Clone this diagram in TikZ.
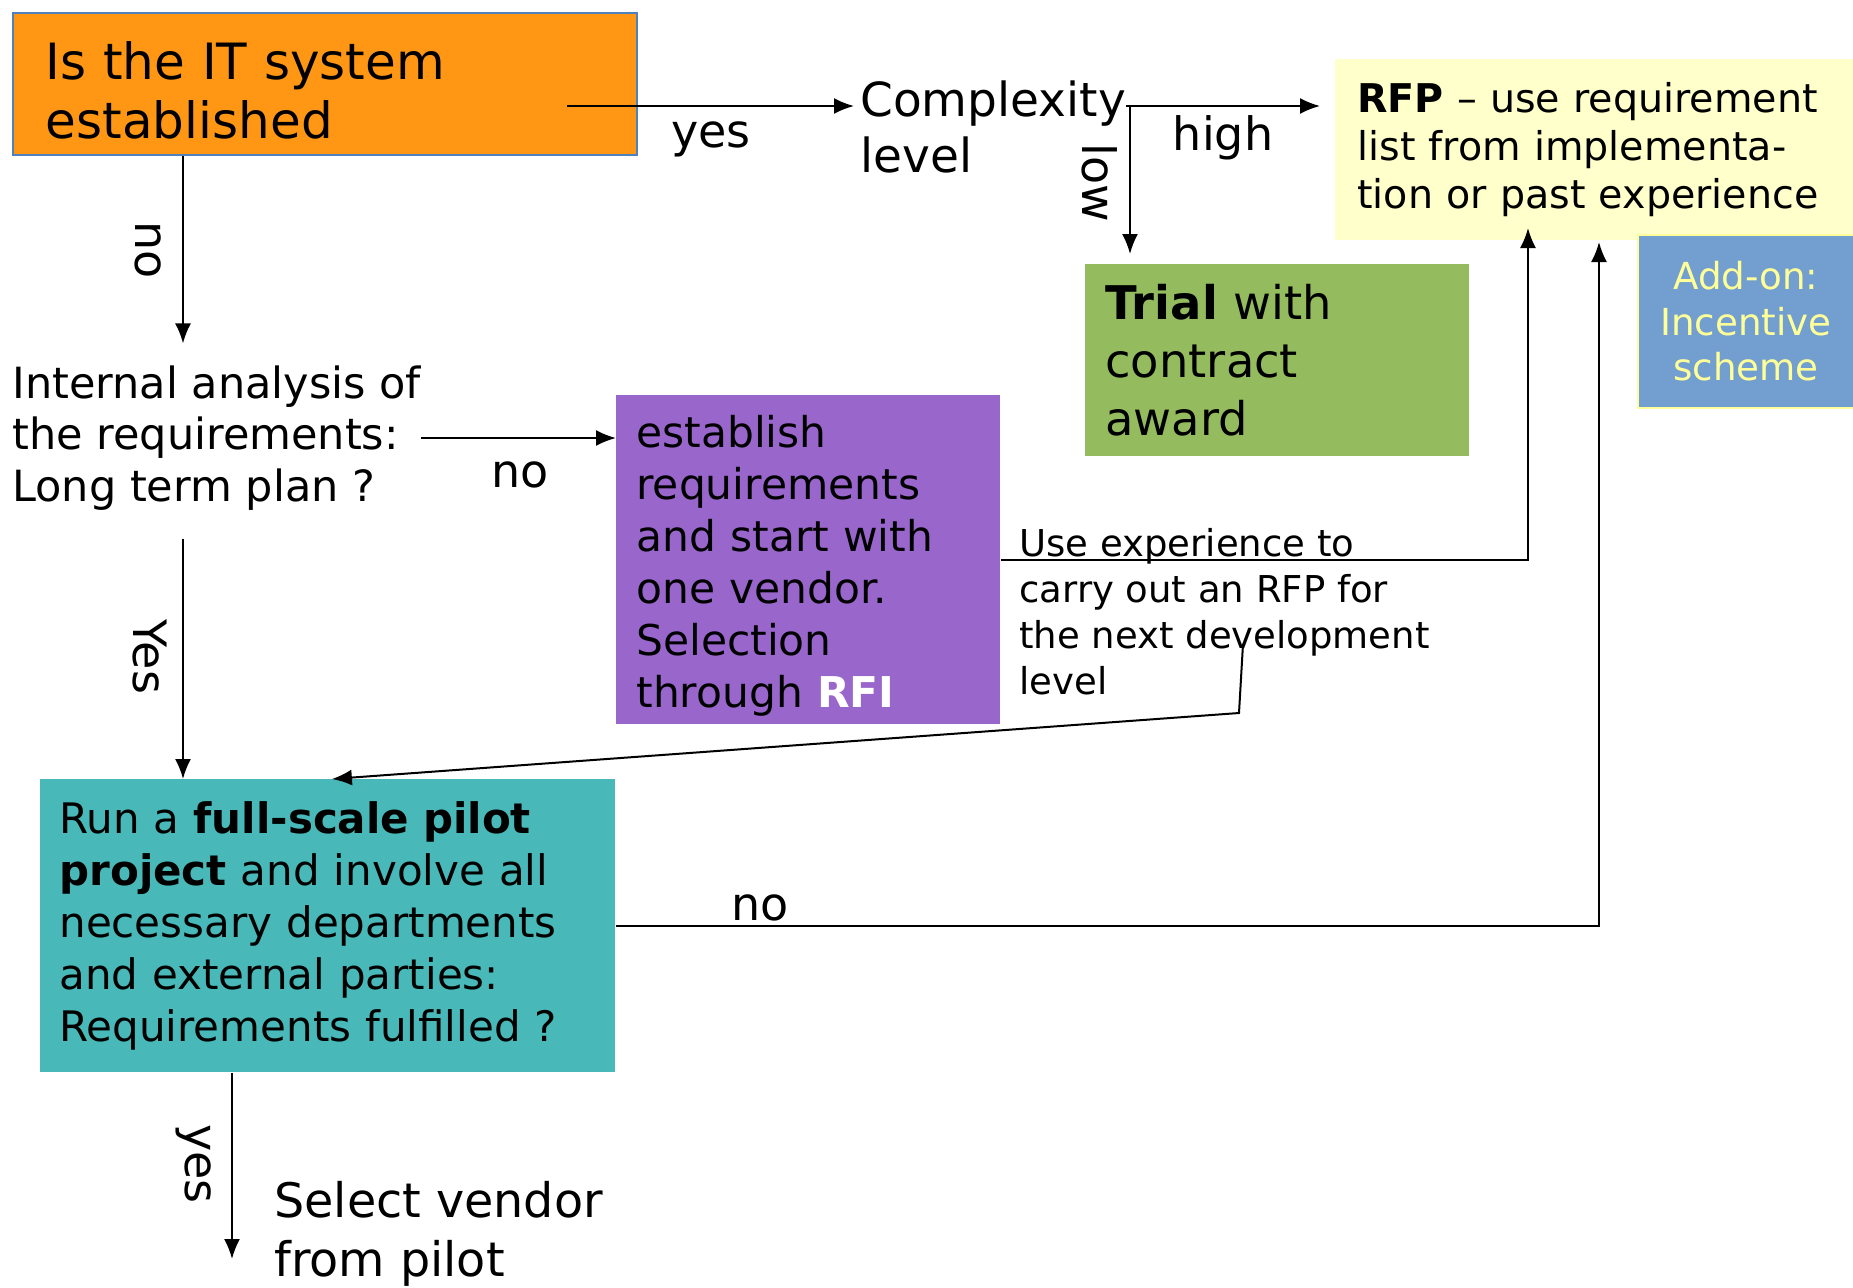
\documentclass[tikz,border=0pt]{standalone}
\usepackage{fontspec}
\setmainfont{DejaVu Sans}
\usetikzlibrary{arrows.meta}

\definecolor{sysorange}{HTML}{FF9614}
\definecolor{sysline}{HTML}{4F81BD}
\definecolor{rfpyellow}{HTML}{FFFFCC}
\definecolor{addonblue}{HTML}{729FCF}
\definecolor{addontext}{HTML}{FFFF99}
\definecolor{trialgreen}{HTML}{94BC5E}
\definecolor{rfipurple}{HTML}{9966CC}
\definecolor{pilotteal}{HTML}{48B8B8}

\newcommand{\fsz}[2]{\fontsize{#1}{#2}\selectfont}

\tikzset{
  flow/.style={line width=1pt, -{Latex[length=10pt,width=8pt]}},
  box/.style={anchor=north west, inner ysep=0pt, align=left},
  txt/.style={inner sep=0pt, align=left},
  lbl/.style={inner sep=0pt, font=\fsz{23}{27}},
}

\begin{document}
\begin{tikzpicture}[x=0.5pt, y=-0.5pt]
\useasboundingbox (0,0) rectangle (1853,1287);
\fill[white] (0,0) rectangle (1853,1287);

% boxes
\node[box, fill=sysorange, draw=sysline, line width=0.9pt, minimum height=71pt, inner xsep=16.5pt, text width=279pt, font=\fsz{25}{29.5}] (itsys) at (12,12) {\rule{0pt}{25pt}Is the IT system\\established};
\node[box, fill=rfpyellow, minimum height=90.5pt, inner xsep=11pt, text width=237pt, font=\fsz{19.8}{24}] (rfp) at (1335,59) {\textbf{RFP} – use requirement\\list from implementa-\\tion or past experience};
\node[box, fill=addonblue, draw=addontext, line width=0.9pt, minimum height=86.5pt, inner xsep=4pt, text width=100pt, align=center, text=addontext, font=\fsz{18.6}{22.7}] (addon) at (1637,234) {Add-on:\\Incentive\\scheme};
\node[box, fill=trialgreen, minimum height=96pt, inner xsep=10pt, text width=172pt, font=\fsz{23.2}{29}] (trial) at (1085,264) {\textbf{Trial} with\\contract\\award};
\node[box, fill=rfipurple, minimum height=164.5pt, inner xsep=10pt, text width=172pt, font=\fsz{21.2}{26}] (rfi) at (616,395) {\rule{0pt}{22pt}establish\\requirements\\and start with\\one vendor.\\Selection\\through \textbf{\color{white}RFI}};
\node[box, fill=pilotteal, minimum height=146.5pt, inner xsep=9.5pt, text width=268.5pt, font=\fsz{21}{26}] (pilot) at (40,779) {Run a \textbf{full-scale pilot}\\\textbf{project} and involve all\\necessary departments\\and external parties:\\Requirements fulfilled ?};

% free text
\node[txt, anchor=west, font=\fsz{23.5}{28.4}] (cplx) at (860,127) {Complexity\\level};
\node[txt, anchor=west, font=\fsz{21.5}{25.7}] (ia) at (12,438) {Internal analysis of\\the requirements:\\Long term plan ?};
\node[txt, anchor=west, font=\fsz{18.5}{23}] (exp) at (1019,612) {Use experience to\\carry out an RFP for\\the next development\\level};
\node[txt, anchor=north west, font=\fsz{23.8}{29.5}] (vendor) at (274,1181) {Select vendor\\from pilot};

% connectors
\coordinate (yesfrom) at (567,106);
\coordinate (fork) at (1130,106);
\coordinate (rfpin) at (1528,228);
\coordinate (rfpin2) at (1599,242);
\coordinate (devfrom) at (1243,644);
\coordinate (devbend) at (1239,713);
\coordinate (pilotend) at (232,1259);
\coordinate (nofrom) at ([xshift=85.5pt]itsys.south west);
\coordinate (planfrom) at ([xshift=85.5pt]ia.south west);

\draw[flow, shorten >=3pt] (yesfrom) -- (yesfrom -| cplx.west);
\draw[flow, shorten >=7.5pt] (cplx.east |- fork) -- (fork -| rfp.west);
\draw[flow, shorten >=5pt] (fork) -- (fork |- trial.north);
\draw[flow, shorten >=11pt] (nofrom) -- (nofrom |- ia.north);
\draw[flow] (ia.east) -- (ia.east -| rfi.west);
\draw[flow, shorten <=14pt] (planfrom) -- (planfrom |- pilot.north);
\draw[flow] (rfi.east) -| (rfpin);
\draw[flow] (devfrom) -- (devbend) -- ([xshift=2pt]pilot.north);
\draw[flow] (pilot.east) -| (rfpin2);
\draw[flow] ([xshift=96pt]pilot.south west) -- (pilotend);

% labels
\node[lbl] (yeslbl) at (711,139) {yes};
\node[lbl] (highlbl) at (1223,138) {high};
\node[lbl, rotate=-90] (lowlbl) at (1100,183) {low};
\node[lbl, rotate=-90] (nolbl) at (148,250) {no};
\node[lbl] (nolbl2) at (520,475) {no};
\node[lbl, rotate=-90] (yeslbl2) at (150,657) {Yes};
\node[lbl] (nolbl3) at (760,908) {no};
\node[lbl, rotate=-90] (yeslbl3) at (194,1164) {yes};
\end{tikzpicture}
\end{document}
